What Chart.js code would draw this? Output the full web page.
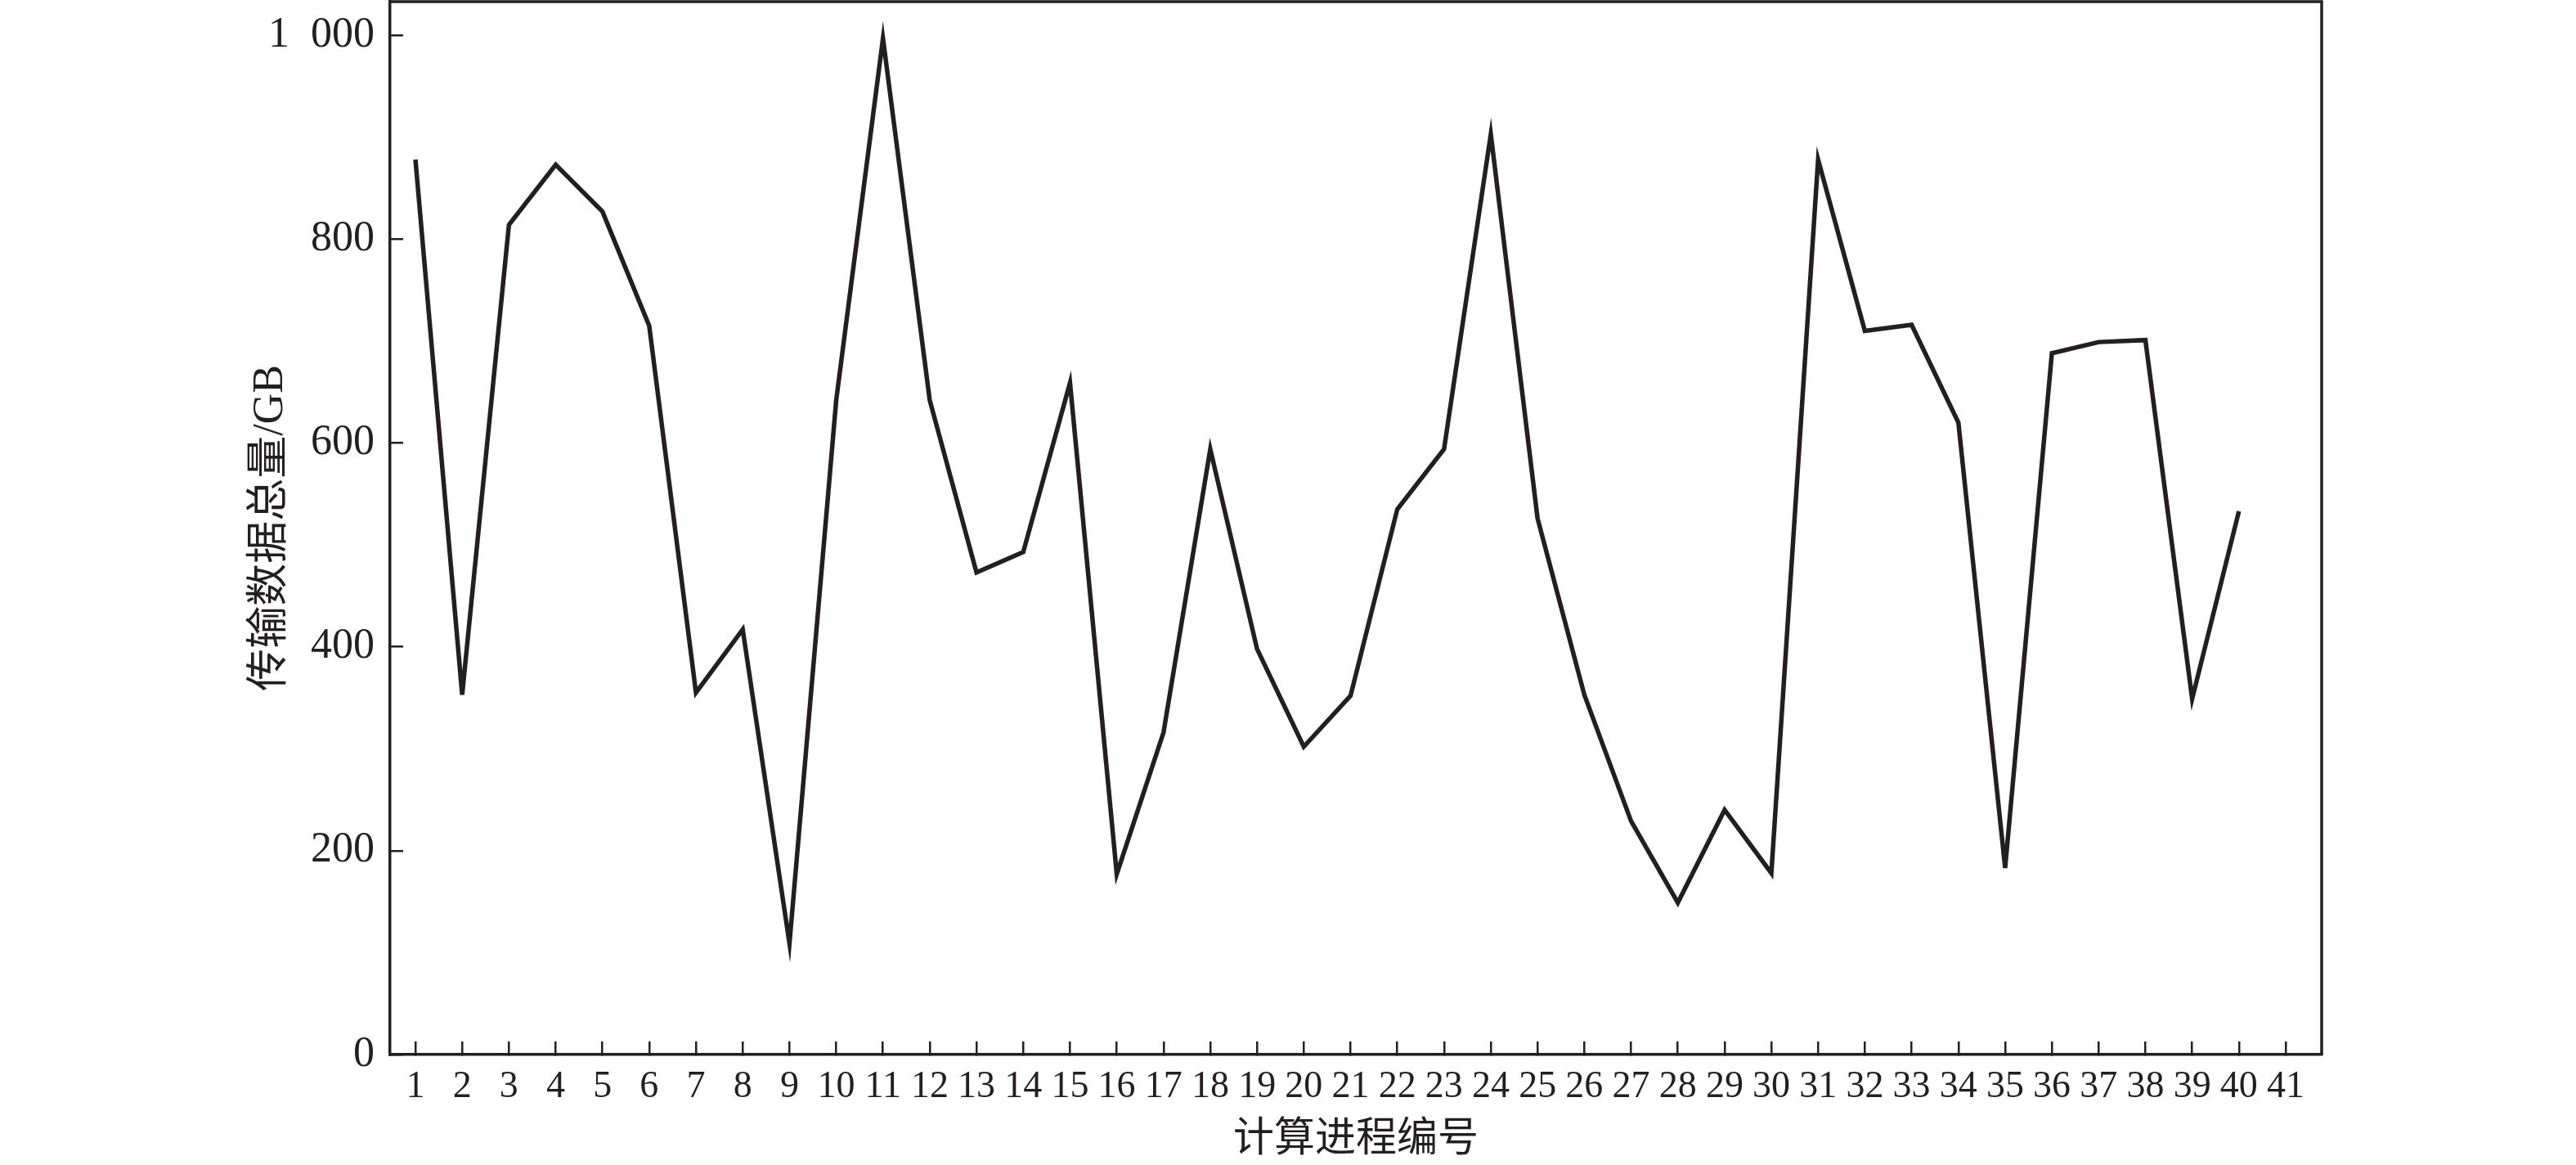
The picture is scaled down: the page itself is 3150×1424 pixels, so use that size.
<!DOCTYPE html>
<html lang="zh">
<head>
    <meta charset="UTF-8">
    <title>传输数据总量</title>
    <script src="https://cdn.jsdelivr.net/npm/chart.js"></script>
    <style>
        html, body { margin: 0; padding: 0; background: #fff; }
        .wrap { width: 3150px; height: 1424px; position: relative; }
    </style>
</head>
<body>
<div class="wrap"><canvas id="chart"></canvas></div>
<script>
    // 计算进程编号
    const processIds = [1, 2, 3, 4, 5, 6, 7, 8, 9, 10, 11, 12, 13, 14, 15, 16, 17, 18, 19, 20,
        21, 22, 23, 24, 25, 26, 27, 28, 29, 30, 31, 32, 33, 34, 35, 36, 37, 38, 39, 40];
    // 传输数据总量 (GB)
    const dataGB = [878, 353, 814, 873, 827, 715, 355, 417, 109, 642, 997, 642, 473, 493, 659, 177, 316, 594, 398, 302,
        352, 535, 594, 903, 526, 353, 229, 149, 240, 178, 878, 710, 716, 620, 183, 688, 699, 701, 349, 533];
    // x 轴刻度 1..41
    const xTicks = [1, 2, 3, 4, 5, 6, 7, 8, 9, 10, 11, 12, 13, 14, 15, 16, 17, 18, 19, 20, 21,
        22, 23, 24, 25, 26, 27, 28, 29, 30, 31, 32, 33, 34, 35, 36, 37, 38, 39, 40, 41];
    const yTicks = [0, 200, 400, 600, 800, 1000];

    const ink = '#231f20';

    // 上边框和右边框
    const framePlugin = {
        id: 'frame',
        afterDraw(chart) {
            const { ctx, chartArea: a } = chart;
            ctx.save();
            ctx.strokeStyle = ink;
            ctx.lineWidth = 3.5;
            ctx.beginPath();
            ctx.moveTo(a.left, a.top);
            ctx.lineTo(a.right, a.top);
            ctx.lineTo(a.right, a.bottom);
            ctx.stroke();
            ctx.restore();
        }
    };

    const ctx = document.getElementById('chart').getContext('2d');
    new Chart(ctx, {
        type: 'line',
        data: {
            datasets: [{
                data: processIds.map((id, i) => ({ x: id, y: dataGB[i] })),
                borderColor: ink,
                borderWidth: 5.5,
                pointRadius: 0,
                tension: 0,
                fill: false
            }]
        },
        options: {
            responsive: true,
            maintainAspectRatio: false,
            animation: false,
            layout: { padding: { left: 260, right: 311, top: 2, bottom: 0 } },
            plugins: { legend: { display: false }, tooltip: { enabled: false } },
            scales: {
                x: {
                    type: 'linear',
                    min: 0.458,
                    max: 41.77,
                    afterBuildTicks: (s) => { s.ticks = xTicks.map(v => ({ value: v })); },
                    afterFit: (s) => { s.height = 135; s.paddingLeft = 0; s.paddingRight = 0; },
                    grid: { drawOnChartArea: false, drawTicks: true, tickLength: -16, color: ink, lineWidth: 2.5 },
                    border: { display: true, color: ink, width: 3.5 },
                    ticks: {
                        autoSkip: false, maxRotation: 0, minRotation: 0, includeBounds: false,
                        padding: 28, color: ink,
                        font: { family: '"Liberation Serif", serif', size: 46 }
                    },
                    title: {
                        display: true, text: '计算进程编号', color: ink,
                        padding: { top: 0, bottom: 0 },
                        font: { family: '"Liberation Serif", "Noto Sans CJK SC", serif', size: 50 }
                    }
                },
                y: {
                    min: 0,
                    max: 1033,
                    afterBuildTicks: (s) => { s.ticks = yTicks.map(v => ({ value: v })); },
                    afterFit: (s) => { s.width = 217; s.paddingTop = 0; s.paddingBottom = 0; },
                    grid: { drawOnChartArea: false, drawTicks: true, tickLength: -16, color: ink, lineWidth: 2.5 },
                    border: { display: true, color: ink, width: 3.5 },
                    ticks: {
                        padding: 35, color: ink,
                        font: { family: '"Liberation Serif", serif', size: 52 },
                        callback: (v) => v === 1000 ? '1\u2002000' : String(v)
                    },
                    title: {
                        display: true, text: '传输数据总量/GB', color: ink,
                        padding: { top: 40, bottom: 0 },
                        font: { family: '"Liberation Serif", "Noto Sans CJK SC", serif', size: 52 }
                    }
                }
            }
        },
        plugins: [framePlugin]
    });
</script>
</body>
</html>
